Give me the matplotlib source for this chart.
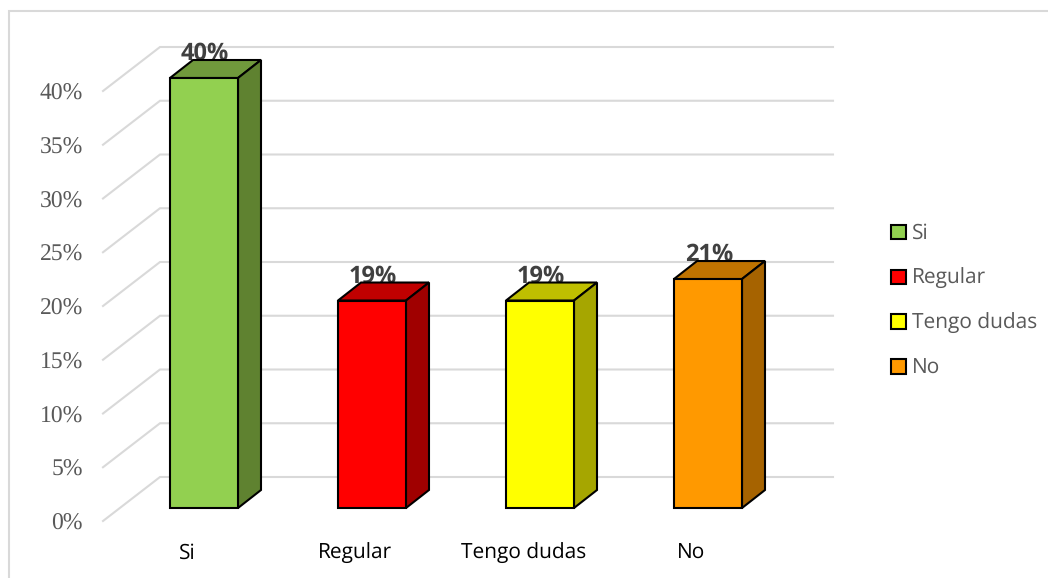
"""3D style column chart drawn on a flat axes, one data unit = 1% on y, 1 category on x."""

import matplotlib
matplotlib.use('Agg')
import matplotlib.pyplot as plt
from matplotlib.patches import Patch, Polygon, Rectangle

plt.rcParams['text.hinting'] = 'none'

categories = ['Si', 'Regular', 'Tengo dudas', 'No']
values = [40.0, 19.3, 19.3, 21.3]
labels = ['40%', '19%', '19%', '21%']
y_ticks = [0, 5, 10, 15, 20, 25, 30, 35, 40]

front_colors = ['#92d050', '#ff0000', '#ffff00', '#ff9900']
top_colors = ['#70993c', '#c00000', '#bfbf00', '#bf7300']
side_colors = ['#5f8230', '#a00000', '#a6a600', '#a66300']

W, H = 1048, 578
PX_X = 168.0   # pixels per category
PX_Y = 10.75   # pixels per 1%
X0, Y0 = 204.0, 508.0  # pixel position of first category, front of the bars at 0%


def dx(px):
    return px / PX_X


def dy(px):
    return px / PX_Y


BAR_W = dx(68)
BAR_DX, BAR_DY = dx(23), dy(18)

fig = plt.figure(figsize=(W / 100, H / 100), dpi=100)
ax = fig.add_axes([0, 0, 1, 1])
ax.set_xlim(-X0 / PX_X, (W - X0) / PX_X)
ax.set_ylim(-(H - Y0) / PX_Y, Y0 / PX_Y)
ax.axis('off')

# chart frame, only the left and top edges show in the crop
ax.plot([dx(9 - X0), dx(9 - X0), dx(W - X0)],
        [dy(Y0 - H), dy(Y0 - 11), dy(Y0 - 11)],
        color='#d9d9d9', linewidth=1.5, solid_joinstyle='miter', zorder=0)

# wall and floor grid lines
for t in y_ticks:
    y_back = t + dy(31)
    ax.plot([dx(103 - X0), dx(160 - X0), dx(833 - X0)],
            [t - dy(13), y_back, y_back],
            color='#d9d9d9', linewidth=1.5, solid_joinstyle='miter', zorder=1)
    ax.text(dx(83 - X0), t - dy(16), f'{t}%', ha='right', va='center',
            fontsize=17, family='Liberation Serif', color='#595959')

for i, (v, name, lab) in enumerate(zip(values, categories, labels)):
    x1 = i - BAR_W / 2
    x2 = i + BAR_W / 2
    # data label sits behind the bar, top face cuts into it
    ax.text(i + dx(1), v + BAR_DY - dy(6), lab, ha='center', va='bottom',
            fontsize=17, fontweight='bold', family='Open Sans', color='#404040', zorder=2)
    ax.add_patch(Polygon([(x1, v), (x2, v), (x2 + BAR_DX, v + BAR_DY), (x1 + BAR_DX, v + BAR_DY)],
                         facecolor=top_colors[i], edgecolor='black', linewidth=1.5, zorder=3))
    ax.add_patch(Polygon([(x2, 0), (x2 + BAR_DX, BAR_DY), (x2 + BAR_DX, v + BAR_DY), (x2, v)],
                         facecolor=side_colors[i], edgecolor='black', linewidth=1.5, zorder=3))
    ax.add_patch(Rectangle((x1, 0), BAR_W, v, facecolor=front_colors[i],
                           edgecolor='black', linewidth=1.5, zorder=4))
    ax.text(i - dx(16.5), -dy(45), name, ha='center', va='center',
            fontsize=15, family='Open Sans', color='black')

handles = [Patch(facecolor=c, edgecolor='black', linewidth=1.5) for c in front_colors]
ax.legend(handles, categories, loc='center left', bbox_to_anchor=(883 / W, 1 - 301 / H),
          frameon=False, prop={'family': 'Open Sans', 'size': 15}, labelcolor='#595959',
          handlelength=0.68, handleheight=0.68, handletextpad=0.3, labelspacing=1.15,
          borderaxespad=0)

fig.savefig('out.png', dpi=100)
plt.close(fig)
